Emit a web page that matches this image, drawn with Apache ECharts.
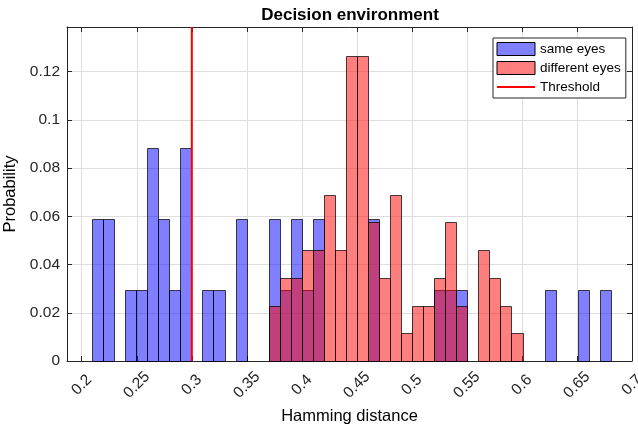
<!DOCTYPE html>
<html><head><meta charset="utf-8">
<script src="https://cdn.jsdelivr.net/npm/echarts@6/dist/echarts.min.js"></script>
<style>html,body{margin:0;padding:0;background:#fff}#c{width:638px;height:428px}</style>
</head><body><div id="c"></div>
<script>
const binEdges = [0.2094, 0.2194, 0.2295, 0.2395, 0.2495, 0.2596, 0.2696, 0.2796, 0.2896, 0.2997,
  0.3097, 0.3197, 0.3298, 0.3398, 0.3498, 0.3599, 0.3699, 0.3799, 0.3899, 0.4000,
  0.4100, 0.4200, 0.4301, 0.4401, 0.4501, 0.4602, 0.4702, 0.4802, 0.4902, 0.5003,
  0.5103, 0.5203, 0.5304, 0.5404, 0.5504, 0.5605, 0.5705, 0.5805, 0.5905, 0.6006,
  0.6106, 0.6206, 0.6307, 0.6407, 0.6507, 0.6608, 0.6708, 0.6808];
const sameEyes = [0.0588, 0.0588, 0, 0.0294, 0.0294, 0.0882, 0.0588, 0.0294, 0.0882, 0,
  0.0294, 0.0294, 0, 0.0588, 0, 0, 0.0588, 0.0294, 0.0588, 0.0294,
  0.0588, 0, 0, 0, 0, 0.0588, 0, 0, 0, 0,
  0, 0.0294, 0.0294, 0.0294, 0, 0, 0, 0, 0, 0,
  0, 0.0294, 0, 0, 0.0294, 0, 0.0294];
const diffEyes = [0, 0, 0, 0, 0, 0, 0, 0, 0, 0,
  0, 0, 0, 0, 0, 0, 0.0230, 0.0345, 0.0345, 0.0460,
  0.0460, 0.0690, 0.0460, 0.1264, 0.1264, 0.0575, 0.0345, 0.0690, 0.0115, 0.0230,
  0.0230, 0.0345, 0.0575, 0.0230, 0, 0.0460, 0.0345, 0.0230, 0.0115, 0,
  0, 0, 0, 0, 0, 0, 0];
const threshold = 0.3;
const xTicks = [0.2, 0.25, 0.3, 0.35, 0.4, 0.45, 0.5, 0.55, 0.6, 0.65, 0.7];
const yTicks = [0, 0.02, 0.04, 0.06, 0.08, 0.1, 0.12];
const xRange = [0.1866, 0.7];
const yRange = [0, 0.1385];

const FONT = '"Liberation Sans", Arial, Helvetica, sans-serif';
const AX = '#262626';
const BLUE = 'rgba(0,0,255,0.5)';
const RED = 'rgba(255,0,0,0.5)';
const EDGE = 'rgba(0,0,0,0.72)';

function histData(vals) {
  const out = [];
  vals.forEach((v, i) => { if (v > 0) out.push([binEdges[i], binEdges[i + 1], v]); });
  return out;
}
function renderBar(fill) {
  return function (params, api) {
    const p0 = api.coord([api.value(0), 0]);
    const p1 = api.coord([api.value(1), api.value(2)]);
    const x0 = Math.round(p0[0]) + 0.5, x1 = Math.round(p1[0]) + 0.5;
    const yT = Math.round(p1[1]) + 0.5, yB = Math.round(p0[1]) + 0.5;
    return { type: 'rect', shape: { x: x0, y: yT, width: x1 - x0, height: yB - yT },
      style: { fill: fill, stroke: EDGE, lineWidth: 1 } };
  };
}
function axisBase(pos, range, ticks) {
  return {
    type: 'value', position: pos, min: range[0], max: range[1],
    axisLine: { show: true, onZero: false, lineStyle: { color: AX, width: 1 } },
    axisTick: { show: true, inside: true, length: 5, customValues: ticks, lineStyle: { color: AX } },
    axisLabel: { show: false },
    splitLine: { show: false }
  };
}
const xMain = axisBase('bottom', xRange, xTicks);
xMain.axisLabel = { show: true, customValues: xTicks, rotate: 45, align: 'center', verticalAlign: 'middle',
  margin: 24, fontSize: 15.5, fontFamily: FONT, color: AX, showMinLabel: true, showMaxLabel: true,
  formatter: v => String(v) };
xMain.splitLine = { show: true, lineStyle: { color: '#dedede', width: 1 } };
xMain.name = 'Hamming distance';
xMain.nameLocation = 'middle';
xMain.nameGap = 39;
xMain.nameTextStyle = { fontSize: 16.5, fontFamily: FONT, color: '#000' };

const yMain = axisBase('left', yRange, yTicks);
yMain.axisLabel = { show: true, customValues: yTicks, margin: 7, fontSize: 15.5, fontFamily: FONT, color: AX,
  showMinLabel: true, showMaxLabel: true, formatter: v => String(v) };
yMain.splitLine = { show: true, lineStyle: { color: '#dedede', width: 1 } };
yMain.name = 'Probability';
yMain.nameLocation = 'middle';
yMain.nameGap = 40;
yMain.nameTextStyle = { fontSize: 16.5, fontFamily: FONT, color: '#000' };

const chart = echarts.init(document.getElementById('c'), null, { renderer: 'canvas' });
chart.setOption({
  animation: false,
  backgroundColor: '#fff',
  grid: { left: 67, right: 6, top: 27, bottom: 67, containLabel: false, outerBoundsMode: 'none' },
  xAxis: [xMain, axisBase('top', xRange, xTicks)],
  yAxis: [yMain, axisBase('right', yRange, yTicks)],
  graphic: [{
    type: 'text', x: 350, y: 15, z: 10,
    style: { text: 'Decision environment', align: 'center', verticalAlign: 'middle',
      fontSize: 17, fontWeight: 'bold', fontFamily: FONT, fill: '#000' }
  }],
  legend: {
    orient: 'vertical', left: 493, top: 38, backgroundColor: '#fff',
    borderColor: AX, borderWidth: 1, padding: [4, 5, 4, 3],
    itemWidth: 38, itemHeight: 13, itemGap: 5, selectedMode: false,
    textStyle: { fontSize: 13.5, fontFamily: FONT, color: '#000' },
    data: [
      { name: 'same eyes', icon: 'rect', itemStyle: { color: BLUE, borderColor: '#000', borderWidth: 1 } },
      { name: 'different eyes', icon: 'rect', itemStyle: { color: RED, borderColor: '#000', borderWidth: 1 } },
      { name: 'Threshold', itemStyle: { color: 'rgba(0,0,0,0)', borderWidth: 0, opacity: 0 },
        lineStyle: { color: '#ff0000', width: 2, opacity: 1 } }
    ]
  },
  series: [
    { name: 'same eyes', type: 'custom', xAxisIndex: 0, yAxisIndex: 0, z: 2,
      data: histData(sameEyes), encode: { x: [0, 1], y: 2 },
      itemStyle: { color: BLUE, borderColor: '#000', borderWidth: 1 },
      renderItem: renderBar(BLUE) },
    { name: 'different eyes', type: 'custom', xAxisIndex: 0, yAxisIndex: 0, z: 3,
      data: histData(diffEyes), encode: { x: [0, 1], y: 2 },
      itemStyle: { color: RED, borderColor: '#000', borderWidth: 1 },
      renderItem: renderBar(RED) },
    { name: 'Threshold', type: 'line', xAxisIndex: 0, yAxisIndex: 0, z: 4,
      data: [[threshold, yRange[0]], [threshold, yRange[1]]],
      symbol: 'none', lineStyle: { color: '#ff0000', width: 2 }, itemStyle: { color: '#ff0000' } }
  ]
});
</script></body></html>
